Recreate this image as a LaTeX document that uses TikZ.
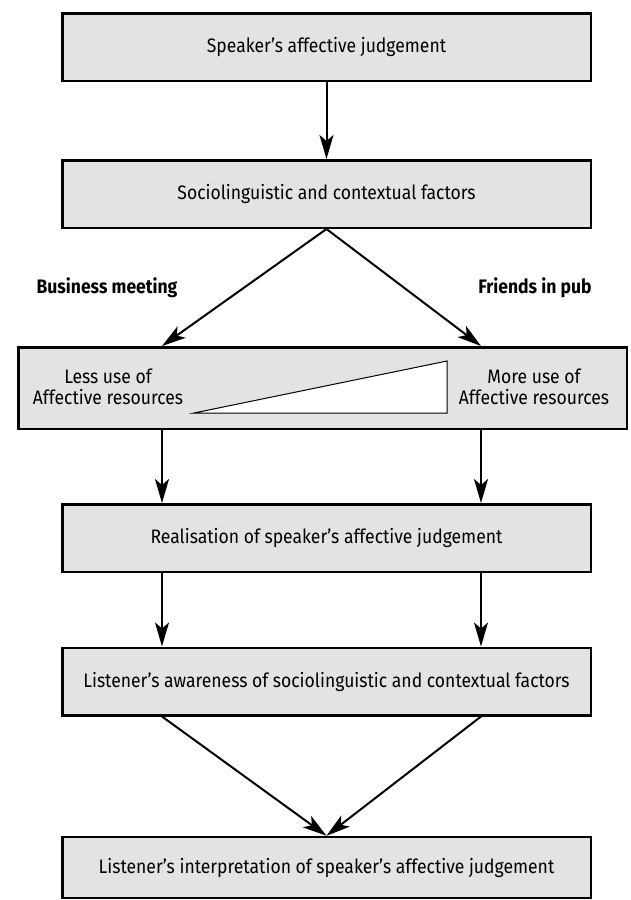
\documentclass[tikz,border=0pt]{standalone}
\usepackage{fontspec}
\setmainfont{Fira Sans}[FakeStretch=0.9]
\usetikzlibrary{arrows.meta}
\definecolor{boxgray}{HTML}{E3E3E3}
\tikzset{
  x=1pt, y=-1pt,
  flowbox/.style={draw=black, line width=2.5pt, fill=boxgray, minimum width=528.5pt, minimum height=67.5pt, inner sep=0pt, font=\fontsize{19.5}{23}\selectfont, align=center},
  arr/.style={line width=2pt, -{Stealth[length=24pt,width=14pt,inset=6pt]}},
  sidetext/.style={font=\fontsize{19.5}{21}\selectfont, align=center, inner sep=0pt},
  lbl/.style={font=\fontsize{19.5}{23}\selectfont\bfseries, inner sep=0pt}
}
\begin{document}
\begin{tikzpicture}
\useasboundingbox (0,0) rectangle (631,900);
\coordinate (L) at (162,0);
\coordinate (R) at (481,0);
\node[flowbox] (b1) at (326.5,47) {Speaker’s affective judgement};
\node[flowbox] (b2) at (326.5,194) {Sociolinguistic and contextual factors};
\node[flowbox, minimum width=608.5pt, minimum height=81.5pt] (b3) at (322.5,388) {};
\node[flowbox] (b4) at (326.5,538) {Realisation of speaker’s affective judgement};
\node[flowbox] (b5) at (326.5,681.5) {Listener’s awareness of sociolinguistic and contextual factors};
\node[flowbox, minimum height=61pt] (b6) at (326.5,867.5) {Listener’s interpretation of speaker’s affective judgement};
\node[sidetext] (less) at (108,387) {Less use of\\Affective resources};
\node[sidetext] (more) at (534,387) {More use of\\Affective resources};
\draw[line width=1pt, fill=white] (194,413) -- (447,361) -- (447,413) -- cycle;
\node[lbl] (bm) at (107,288) {Business meeting};
\node[lbl] (fp) at (535,288) {Friends in pub};
\draw[arr] (b1.south) -- (b2.north);
\draw[arr] (b2.south) -- (b3.north -| L);
\draw[arr] (b2.south) -- (b3.north -| R);
\draw[arr] (b3.south -| L) -- (b4.north -| L);
\draw[arr] (b3.south -| R) -- (b4.north -| R);
\draw[arr] (b4.south -| L) -- (b5.north -| L);
\draw[arr] (b4.south -| R) -- (b5.north -| R);
\draw[arr] (b5.south -| L) -- (b6.north);
\draw[arr] (b5.south -| R) -- (b6.north);
\end{tikzpicture}
\end{document}
